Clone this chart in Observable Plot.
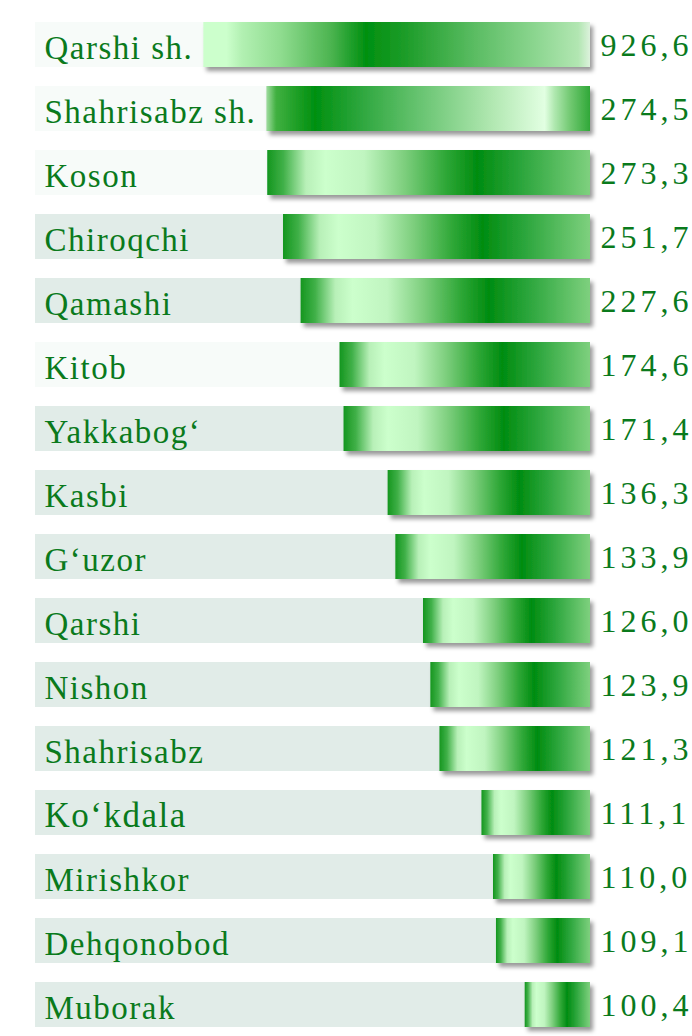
<!DOCTYPE html>
<html>
<head>
<meta charset="utf-8">
<script src="https://cdn.jsdelivr.net/npm/d3@7"></script>
<script src="https://cdn.jsdelivr.net/npm/@observablehq/plot@0.6"></script>
<style>
  html, body { margin: 0; padding: 0; background: #ffffff; }
  #chart { width: 692px; height: 1036px; }
</style>
</head>
<body>
<div id="chart"></div>
<script>
// Districts (top to bottom) and their values
const districts = ["Qarshi sh.", "Shahrisabz sh.", "Koson", "Chiroqchi", "Qamashi", "Kitob", "Yakkabog\u2018", "Kasbi", "G\u2018uzor", "Qarshi", "Nishon", "Shahrisabz", "Ko\u2018kdala", "Mirishkor", "Dehqonobod", "Muborak"];
const values = [926.6, 274.5, 273.3, 251.7, 227.6, 174.6, 171.4, 136.3, 133.9, 126.0, 123.9, 121.3, 111.1, 110.0, 109.1, 100.4];

const rows = districts.map((name, i) => ({name, value: values[i]}));
const fmt = v => d3.format(".1f")(v).replace(".", ",");

const lightRows = new Set(["Qarshi sh.", "Shahrisabz sh.", "Koson", "Kitob"]);
const green = "#0a7a1c";
const serif = "Liberation Serif";

const chart = Plot.plot({
  width: 692,
  height: 1036,
  marginLeft: 35,
  marginRight: 102,
  marginTop: 0,
  marginBottom: 0,
  style: {background: "transparent", overflow: "visible"},
  x: {
    axis: null,
    type: "linear",
    // broken (piecewise) axis as in the original graphic
    domain: [0, 100, 110, 112, 136, 175, 275, 930],
    range: [590, 526, 493, 472, 388, 339, 266, 203]
  },
  y: {axis: null, domain: districts, range: [1, 1048], padding: 0.3},
  marks: [
    Plot.cell(rows, {y: "name", fill: d => lightRows.has(d.name) ? "#f7fbf9" : "#e1ece8"}),
    Plot.barX(rows.filter(d => d.name === "Qarshi sh."), {y: "name", x: "value", fill: "url(#gA)"}),
    Plot.barX(rows.filter(d => d.name === "Shahrisabz sh."), {y: "name", x: "value", fill: "url(#gB)"}),
    Plot.barX(rows.filter(d => d.name !== "Qarshi sh." && d.name !== "Shahrisabz sh."), {y: "name", x: "value", fill: "url(#gC)"}),
    Plot.text(rows, {
      y: "name", text: "name", frameAnchor: "left", textAnchor: "start", dx: 9, dy: 3,
      fill: green, fontFamily: serif, fontSize: 33
    }),
    Plot.text(rows, {
      y: "name", text: d => fmt(d.value), frameAnchor: "right", textAnchor: "start", dx: 10, dy: 1,
      fill: green, fontFamily: serif, fontSize: 32
    })
  ]
});

// gradients and shadow
const svg = d3.select(chart);
const defs = svg.insert("defs", ":first-child");
function grad(id, stops) {
  const g = defs.append("linearGradient").attr("id", id).attr("x1", "0").attr("x2", "1").attr("y1", "0").attr("y2", "0");
  stops.forEach(([o, c]) => g.append("stop").attr("offset", o).attr("stop-color", c));
}
grad("gA", [[0, "#ccffcc"], [0.06, "#ccffcc"], [0.1, "#b2f0b2"], [0.2, "#8fdc8f"], [0.33, "#4cb450"], [0.42, "#009010"], [0.52, "#1c9c28"], [0.7, "#5abc62"], [0.86, "#8cd690"], [0.97, "#b2e6b2"], [1, "#dcf2dc"]]);
grad("gB", [[0, "#a0dca0"], [0.03, "#40b040"], [0.15, "#009010"], [0.3, "#30a840"], [0.5, "#70c878"], [0.7, "#b2e8b2"], [0.86, "#e2ffe2"], [0.89, "#b0e8b0"], [0.94, "#70c870"], [1, "#30a838"]]);
grad("gC", [[0, "#14961f"], [0.05, "#40b048"], [0.12, "#b8f0b8"], [0.18, "#ccffcc"], [0.3, "#c0f5c0"], [0.42, "#80d080"], [0.55, "#30a838"], [0.65, "#008c10"], [0.8, "#30a840"], [1, "#7ed07e"]]);
const f = defs.append("filter").attr("id", "shadow").attr("x", "-5%").attr("y", "-20%").attr("width", "115%").attr("height", "160%");
f.append("feDropShadow").attr("dx", 3).attr("dy", 4).attr("stdDeviation", 2).attr("flood-color", "#000").attr("flood-opacity", 0.4);
svg.selectAll("g[aria-label='bar']").attr("filter", "url(#shadow)");
const texts = svg.selectAll("g[aria-label='text']").nodes();
d3.select(texts[0]).style("letter-spacing", "1.5px");
d3.select(texts[1]).style("letter-spacing", "4px");
// in the original, "Ko‘kdala" is set in a narrow sans face
d3.select(texts[0]).selectAll("text")
  .filter(i => districts[i] === "Ko\u2018kdala")
  .attr("font-family", "Liberation Sans Narrow")
  .attr("font-size", 35);

document.getElementById("chart").appendChild(chart);
</script>
</body>
</html>
